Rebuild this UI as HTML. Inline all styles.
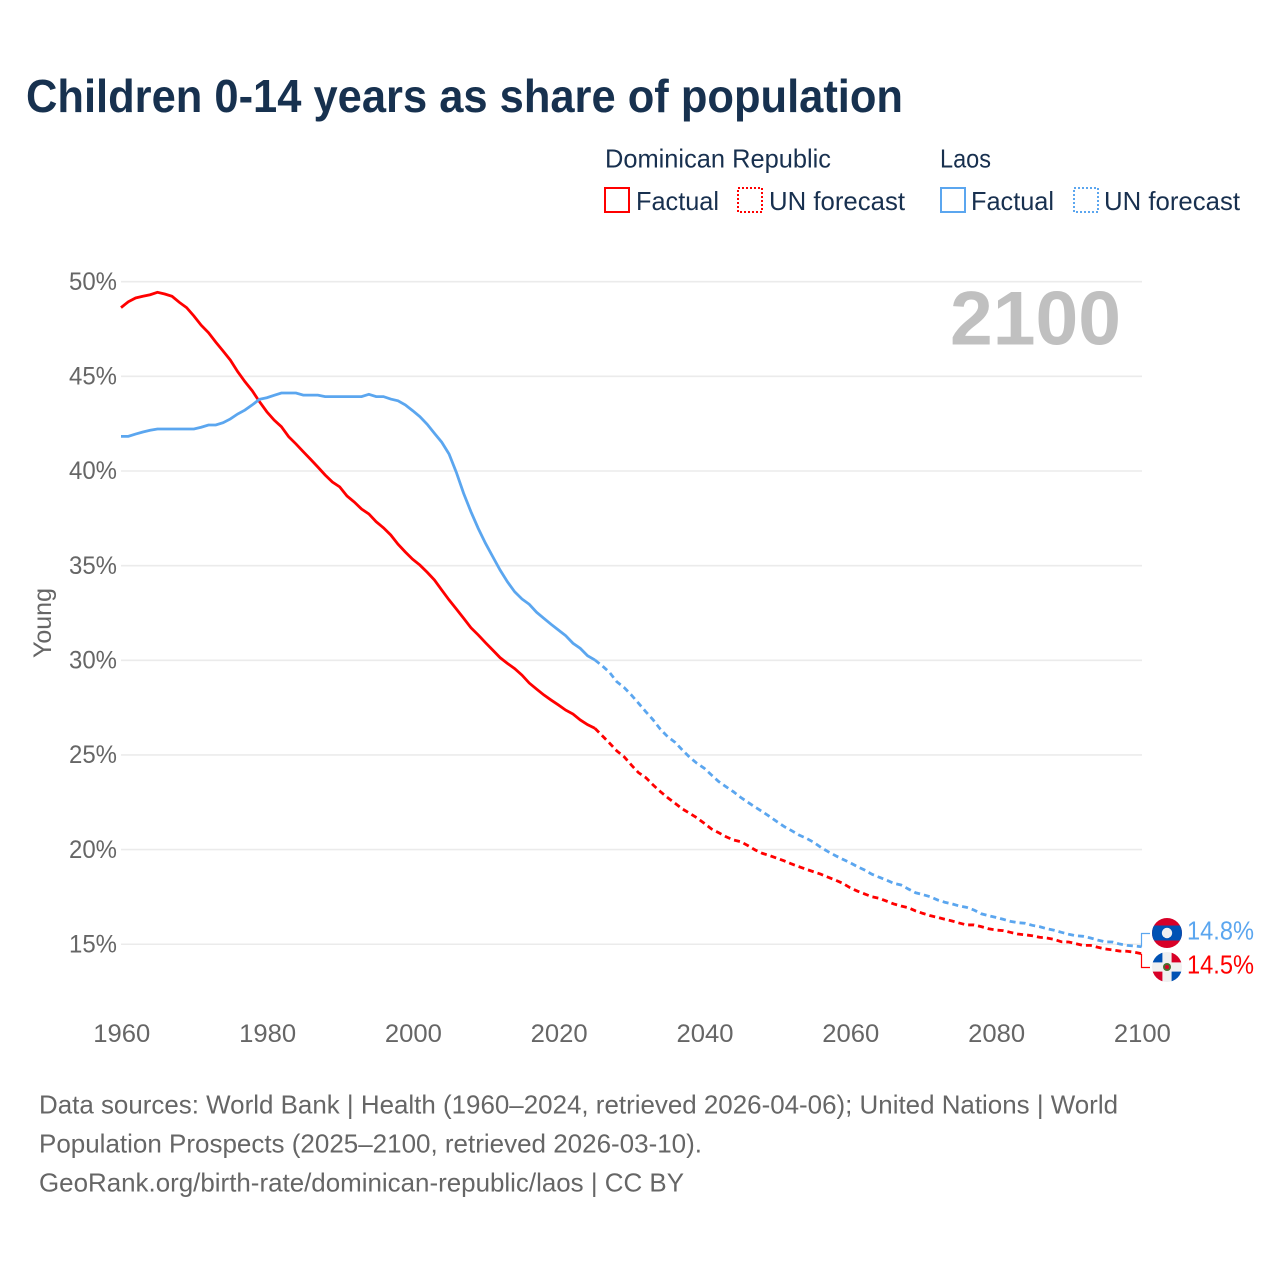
<!DOCTYPE html>
<html lang="en">
<head>
<meta charset="utf-8">
<title>Children 0-14 years as share of population</title>
<style>
html,body{margin:0;padding:0;background:#fff;}
svg{display:block;}
text{font-family:"Liberation Sans",sans-serif;}
</style>
</head>
<body>
<svg id="chart" xmlns="http://www.w3.org/2000/svg" width="1280" height="1280" viewBox="0 0 1280 1280">
  <rect x="0" y="0" width="1280" height="1280" fill="#ffffff"/>
  <text x="26" y="112" font-size="46" font-weight="700" fill="#17314f" textLength="877" lengthAdjust="spacingAndGlyphs">Children 0-14 years as share of population</text>

  <g font-size="26" fill="#18304f">
    <text x="605" y="167.5" textLength="226" lengthAdjust="spacingAndGlyphs">Dominican Republic</text>
    <text x="940" y="167.5" textLength="51" lengthAdjust="spacingAndGlyphs">Laos</text>
    <rect x="605" y="188" width="24" height="24" fill="none" stroke="#ff0000" stroke-width="2" shape-rendering="crispEdges"/>
    <text x="636" y="210" textLength="83" lengthAdjust="spacingAndGlyphs">Factual</text>
    <rect x="738" y="188" width="24" height="24" fill="none" stroke="#ff0000" stroke-width="2" stroke-dasharray="2 2" shape-rendering="crispEdges"/>
    <text x="769" y="210" textLength="136" lengthAdjust="spacingAndGlyphs">UN forecast</text>
    <rect x="941" y="188" width="24" height="24" fill="none" stroke="#5ba6ef" stroke-width="2" shape-rendering="crispEdges"/>
    <text x="971" y="210" textLength="83" lengthAdjust="spacingAndGlyphs">Factual</text>
    <rect x="1074" y="188" width="24" height="24" fill="none" stroke="#5ba6ef" stroke-width="2" stroke-dasharray="2 2" shape-rendering="crispEdges"/>
    <text x="1104" y="210" textLength="136" lengthAdjust="spacingAndGlyphs">UN forecast</text>
  </g>

  <g id="grid"></g>
  <g id="y-ticks" font-size="25" fill="#666666" text-anchor="end"></g>
  <g id="x-ticks" font-size="25" fill="#666666" text-anchor="middle"></g>
  <text transform="translate(51,623) rotate(-90)" font-size="25" fill="#666666" text-anchor="middle" textLength="70" lengthAdjust="spacingAndGlyphs">Young</text>

  <text x="950" y="344.5" font-size="76" font-weight="700" fill="#c0c0c0" textLength="171" lengthAdjust="spacingAndGlyphs">2100</text>

  <g id="series"></g>
  <g id="connectors"></g>

  <defs>
    <clipPath id="flag-clip-laos"><circle cx="1167" cy="933" r="15"/></clipPath>
    <clipPath id="flag-clip-dom"><circle cx="1167" cy="967" r="15"/></clipPath>
  </defs>
  <g clip-path="url(#flag-clip-laos)">
    <rect x="1152" y="918" width="30" height="30" fill="#d80027"/>
    <rect x="1152" y="925.5" width="30" height="15" fill="#0052b4"/>
    <circle cx="1167" cy="933" r="5.2" fill="#f0f0f0"/>
  </g>
  <g clip-path="url(#flag-clip-dom)">
    <rect x="1152" y="952" width="30" height="30" fill="#f0f0f0"/>
    <rect x="1152" y="952" width="10.4" height="10.4" fill="#0052b4"/>
    <rect x="1171.6" y="952" width="10.4" height="10.4" fill="#d80027"/>
    <rect x="1152" y="971.6" width="10.4" height="10.4" fill="#d80027"/>
    <rect x="1171.6" y="971.6" width="10.4" height="10.4" fill="#0052b4"/>
    <circle cx="1167" cy="967" r="4" fill="#496e2d"/>
    <circle cx="1167" cy="967" r="2" fill="#d80027"/>
  </g>

  <g font-size="26" fill="#666666">
    <text x="39" y="1113.5" textLength="1079" lengthAdjust="spacingAndGlyphs">Data sources: World Bank | Health (1960–2024, retrieved 2026-04-06); United Nations | World</text>
    <text x="39" y="1152.5" textLength="663" lengthAdjust="spacingAndGlyphs">Population Prospects (2025–2100, retrieved 2026-03-10).</text>
    <text x="39" y="1191.5" textLength="645" lengthAdjust="spacingAndGlyphs">GeoRank.org/birth-rate/dominican-republic/laos | CC BY</text>
  </g>
</svg>
<script>
const yTickValues = [50, 45, 40, 35, 30, 25, 20, 15];
const xTickYears = [1960, 1980, 2000, 2020, 2040, 2060, 2080, 2100];
const factualStartYear = 1960;
const forecastStartYear = 2025;
const dominicanFactual = [48.63,48.94,49.14,49.23,49.31,49.44,49.35,49.23,48.91,48.63,48.19,47.70,47.31,46.81,46.34,45.86,45.25,44.72,44.24,43.66,43.13,42.69,42.34,41.81,41.43,41.02,40.62,40.21,39.79,39.42,39.16,38.68,38.36,37.99,37.73,37.32,37.00,36.62,36.13,35.72,35.34,35.03,34.65,34.24,33.71,33.19,32.71,32.22,31.72,31.34,30.93,30.54,30.14,29.84,29.56,29.22,28.80,28.48,28.17,27.90,27.64,27.37,27.16,26.85,26.60,26.41];
const dominicanForecast = [26.41,26.02,25.63,25.22,24.91,24.47,24.06,23.80,23.41,23.06,22.74,22.45,22.15,21.92,21.68,21.39,21.09,20.89,20.68,20.51,20.42,20.21,19.98,19.80,19.68,19.54,19.40,19.24,19.10,18.96,18.83,18.70,18.54,18.39,18.22,17.99,17.81,17.66,17.51,17.43,17.28,17.13,17.02,16.93,16.76,16.63,16.51,16.42,16.32,16.23,16.12,16.02,16.02,15.93,15.82,15.75,15.72,15.63,15.54,15.50,15.45,15.37,15.33,15.26,15.13,15.12,15.03,14.94,14.94,14.84,14.75,14.70,14.64,14.63,14.58,14.50];
const laosFactual = [41.83,41.83,41.95,42.06,42.15,42.22,42.22,42.22,42.22,42.22,42.22,42.31,42.43,42.43,42.55,42.75,43.01,43.22,43.49,43.79,43.87,44.00,44.12,44.12,44.12,44.01,44.01,44.01,43.93,43.93,43.93,43.93,43.93,43.93,44.05,43.93,43.93,43.80,43.71,43.49,43.19,42.87,42.47,41.99,41.52,40.90,39.93,38.82,37.85,36.97,36.18,35.47,34.77,34.15,33.62,33.24,32.96,32.54,32.22,31.90,31.60,31.30,30.90,30.63,30.24,30.02];
const laosForecast = [30.02,29.71,29.37,28.87,28.57,28.17,27.73,27.28,26.85,26.35,25.96,25.67,25.26,24.88,24.56,24.30,23.94,23.59,23.32,23.06,22.76,22.50,22.24,22.00,21.74,21.47,21.21,21.00,20.77,20.60,20.39,20.12,19.89,19.68,19.49,19.31,19.10,18.92,18.70,18.54,18.39,18.22,18.13,17.92,17.72,17.62,17.51,17.34,17.22,17.13,17.02,16.95,16.81,16.61,16.51,16.42,16.32,16.21,16.14,16.11,16.00,15.93,15.82,15.74,15.63,15.53,15.45,15.42,15.33,15.22,15.13,15.12,15.01,14.94,14.91,14.87];
const endLabelLaos = "14.8%";
const endLabelDominican = "14.5%";

const SVG_NS = "http://www.w3.org/2000/svg";
const RED = "#ff0000";
const BLUE = "#5ba6ef";
function xScale(year) { return 121 + (year - 1960) * 7.29; }
function yScale(value) { return 281.7 + (50 - value) * 18.93; }

function pathFrom(values, startYear) {
  return values.map(function (v, i) {
    return (i === 0 ? "M" : "L") + xScale(startYear + i).toFixed(2) + " " + yScale(v).toFixed(2);
  }).join(" ");
}

const gridGroup = document.getElementById("grid");
const yTickGroup = document.getElementById("y-ticks");
yTickValues.forEach(function (v) {
  const line = document.createElementNS(SVG_NS, "line");
  
  
  line.setAttribute("x1", 121);
  line.setAttribute("x2", 1142);
  line.setAttribute("y1", yScale(v));
  line.setAttribute("y2", yScale(v));
  line.setAttribute("stroke", "#ebebeb");
  line.setAttribute("stroke-width", "1.6");
  gridGroup.appendChild(line);

  const label = document.createElementNS(SVG_NS, "text");
  
  
  label.setAttribute("x", 117);
  label.setAttribute("y", yScale(v) + 8.2);
  label.setAttribute("textLength", 48);
  label.setAttribute("lengthAdjust", "spacingAndGlyphs");
  label.textContent = v + "%";
  yTickGroup.appendChild(label);
});

const xTickGroup = document.getElementById("x-ticks");
xTickYears.forEach(function (yr) {
  const label = document.createElementNS(SVG_NS, "text");
  
  
  label.setAttribute("x", xScale(yr) + 0.8);
  label.setAttribute("y", 1042);
  label.setAttribute("textLength", 57);
  label.setAttribute("lengthAdjust", "spacingAndGlyphs");
  label.textContent = yr;
  xTickGroup.appendChild(label);
});

const seriesGroup = document.getElementById("series");

const laosForecastLine = document.createElementNS(SVG_NS, "path");


laosForecastLine.setAttribute("d", pathFrom(laosForecast, forecastStartYear));
laosForecastLine.setAttribute("fill", "none");
laosForecastLine.setAttribute("stroke", BLUE);
laosForecastLine.setAttribute("stroke-width", "2.8");
laosForecastLine.setAttribute("stroke-dasharray", "6 4");
seriesGroup.appendChild(laosForecastLine);

const domForecastLine = document.createElementNS(SVG_NS, "path");


domForecastLine.setAttribute("d", pathFrom(dominicanForecast, forecastStartYear));
domForecastLine.setAttribute("fill", "none");
domForecastLine.setAttribute("stroke", RED);
domForecastLine.setAttribute("stroke-width", "2.8");
domForecastLine.setAttribute("stroke-dasharray", "6 4");
seriesGroup.appendChild(domForecastLine);

const domFactualLine = document.createElementNS(SVG_NS, "path");


domFactualLine.setAttribute("d", pathFrom(dominicanFactual, factualStartYear));
domFactualLine.setAttribute("fill", "none");
domFactualLine.setAttribute("stroke", RED);
domFactualLine.setAttribute("stroke-width", "2.8");
seriesGroup.appendChild(domFactualLine);

const laosFactualLine = document.createElementNS(SVG_NS, "path");


laosFactualLine.setAttribute("d", pathFrom(laosFactual, factualStartYear));
laosFactualLine.setAttribute("fill", "none");
laosFactualLine.setAttribute("stroke", BLUE);
laosFactualLine.setAttribute("stroke-width", "2.8");
seriesGroup.appendChild(laosFactualLine);

const connectorGroup = document.getElementById("connectors");
const laosEndY = yScale(laosForecast[laosForecast.length - 1]);
const domEndY = yScale(dominicanForecast[dominicanForecast.length - 1]);

const laosConnector = document.createElementNS(SVG_NS, "path");


laosConnector.setAttribute("d", "M1141.5 " + laosEndY + " V933.5 H1150");
laosConnector.setAttribute("fill", "none");
laosConnector.setAttribute("stroke", BLUE);
laosConnector.setAttribute("stroke-width", "1.2");
connectorGroup.appendChild(laosConnector);

const domConnector = document.createElementNS(SVG_NS, "path");


domConnector.setAttribute("d", "M1141.5 " + domEndY + " V967.5 H1150");
domConnector.setAttribute("fill", "none");
domConnector.setAttribute("stroke", RED);
domConnector.setAttribute("stroke-width", "1.2");
connectorGroup.appendChild(domConnector);

const laosValueLabel = document.createElementNS(SVG_NS, "text");


laosValueLabel.setAttribute("x", 1187);
laosValueLabel.setAttribute("y", 939.5);
laosValueLabel.setAttribute("font-size", "26");
laosValueLabel.setAttribute("fill", BLUE);
laosValueLabel.setAttribute("textLength", 67);
laosValueLabel.setAttribute("lengthAdjust", "spacingAndGlyphs");
laosValueLabel.textContent = endLabelLaos;
connectorGroup.appendChild(laosValueLabel);

const domValueLabel = document.createElementNS(SVG_NS, "text");


domValueLabel.setAttribute("x", 1187);
domValueLabel.setAttribute("y", 973.5);
domValueLabel.setAttribute("font-size", "26");
domValueLabel.setAttribute("fill", RED);
domValueLabel.setAttribute("textLength", 67);
domValueLabel.setAttribute("lengthAdjust", "spacingAndGlyphs");
domValueLabel.textContent = endLabelDominican;
connectorGroup.appendChild(domValueLabel);
</script>
</body>
</html>
